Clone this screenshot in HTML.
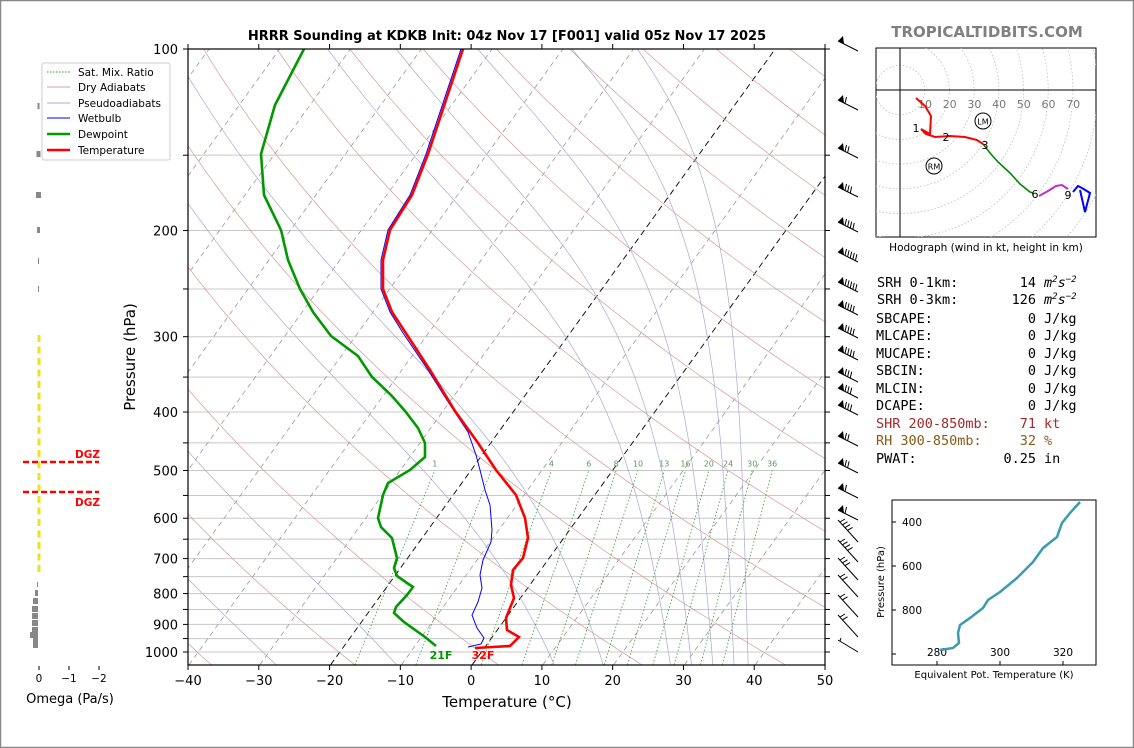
<!DOCTYPE html>
<html><head><meta charset="utf-8"><style>
html,body{margin:0;padding:0;background:#fff;}
svg{display:block;font-family:"DejaVu Sans","Liberation Sans",sans-serif;}
.mono{font-family:"DejaVu Sans Mono","Liberation Mono",monospace;font-size:13.5px;}
</style></head><body>
<svg id="s" width="1134" height="748" viewBox="0 0 1134 748" xmlns="http://www.w3.org/2000/svg">
<rect x="0.5" y="0.5" width="1133" height="747" fill="#fff" stroke="#888" stroke-width="1.5"/>
<defs><clipPath id="cp"><rect x="188" y="49" width="637" height="616"/></clipPath>
<clipPath id="hc"><rect x="876" y="48" width="220" height="189"/></clipPath></defs>
<g id="bg" clip-path="url(#cp)"></g>
<g id="prof" clip-path="url(#cp)">
<polyline fill="none" stroke="#0000ff" stroke-width="1" points="461,49 426,154 410,195 388,230 381,260 381,289 390,312 403,333 428,370 450,405 468,432 476,455 480,470 485,490 490,505 492,530 491,542 483,560 480,575 482,588 478,602 472,615 477,628 484,638 481,644 468,647"/>
<polyline fill="none" stroke="#009900" stroke-width="2.6" points="304,49 275,105 261,154 264,195 281,230 288,260 300,289 313,312 331,336 358,356 372,377 391,395 405,411 418,428 425,443 425,457 410,470 388,483 383,495 378,518 381,527 392,538 397,558 394,568 397,576 407,583 413,587 407,595 396,607 394,613 404,622 425,637 436,646"/>
<polyline fill="none" stroke="#ff0000" stroke-width="2.6" points="463,49 428,154 412,195 390,230 383,260 383,289 392,312 430,370 455,411 478,443 496,470 516,495 525,518 528,538 523,558 513,570 511,585 514,598 506,618 507,630 519,637 510,646 475,648"/>
</g>
<text x="441" y="659" font-size="11" font-weight="bold" fill="#009900" text-anchor="middle">21F</text>
<text x="483" y="659" font-size="11" font-weight="bold" fill="#ff0000" text-anchor="middle">32F</text>
<g id="ax"></g>
<text x="507" y="40" font-size="13" font-weight="bold" text-anchor="middle">HRRR Sounding at KDKB Init: 04z Nov 17 [F001] valid 05z Nov 17 2025</text>
<text x="507" y="707" font-size="15" text-anchor="middle">Temperature (°C)</text>
<text transform="translate(135,357) rotate(-90)" font-size="15" text-anchor="middle">Pressure (hPa)</text>
<rect x="42" y="63" width="128" height="97" rx="2" fill="#fff" stroke="#ccc"/>
<g font-size="10.5">
<line x1="47" y1="72" x2="70" y2="72" stroke="#2a9a2a" stroke-dasharray="1.5,1.5"/><text x="78" y="76">Sat. Mix. Ratio</text>
<line x1="47" y1="87" x2="70" y2="87" stroke="#d9a0a0"/><text x="78" y="91">Dry Adiabats</text>
<line x1="47" y1="103" x2="70" y2="103" stroke="#a8a8d8"/><text x="78" y="107">Pseudoadiabats</text>
<line x1="47" y1="118" x2="70" y2="118" stroke="#0000ff"/><text x="78" y="122">Wetbulb</text>
<line x1="47" y1="134" x2="70" y2="134" stroke="#009900" stroke-width="2.5"/><text x="78" y="138">Dewpoint</text>
<line x1="47" y1="150" x2="70" y2="150" stroke="#ff0000" stroke-width="2.5"/><text x="78" y="154">Temperature</text>
</g>
<g id="om"></g>
<line x1="23" y1="462" x2="99" y2="462" stroke="#ff0000" stroke-width="2.5" stroke-dasharray="6,3"/>
<line x1="23" y1="492" x2="99" y2="492" stroke="#ff0000" stroke-width="2.5" stroke-dasharray="6,3"/>
<text x="100" y="458" font-size="10.5" font-weight="bold" fill="#ff0000" text-anchor="end">DGZ</text>
<text x="100" y="506" font-size="10.5" font-weight="bold" fill="#ff0000" text-anchor="end">DGZ</text>
<g font-size="10.5" text-anchor="middle"><line x1="39" y1="666" x2="39" y2="670" stroke="#000"/><line x1="69" y1="666" x2="69" y2="670" stroke="#000"/><line x1="99" y1="666" x2="99" y2="670" stroke="#000"/>
<text x="39" y="682">0</text><text x="69" y="682">−1</text><text x="99" y="682">−2</text></g>
<text x="70" y="703" font-size="13" text-anchor="middle">Omega (Pa/s)</text>
<g id="barbs" stroke="#000" stroke-width="1" fill="#000"></g>
<text x="987" y="37" font-size="15" font-weight="bold" fill="#808080" text-anchor="middle">TROPICALTIDBITS.COM</text>
<rect x="876" y="48" width="220" height="189" fill="#fff" stroke="#000"/>
<g id="hod" clip-path="url(#hc)"></g>
<text x="986" y="251" font-size="10.5" text-anchor="middle">Hodograph (wind in kt, height in km)</text>
<g class="mono" xml:space="preserve">
<text x="877" y="287">SRH 0-1km:</text><text x="1036" y="287" text-anchor="end">14</text><text x="1044" y="287" font-style="italic">m<tspan font-size="9" dy="-5">2</tspan><tspan dy="5">s</tspan><tspan font-size="9" dy="-5">−2</tspan></text>
<text x="877" y="304">SRH 0-3km:</text><text x="1036" y="304" text-anchor="end">126</text><text x="1044" y="304" font-style="italic">m<tspan font-size="9" dy="-5">2</tspan><tspan dy="5">s</tspan><tspan font-size="9" dy="-5">−2</tspan></text>
<text x="876" y="323">SBCAPE:</text><text x="1036" y="323" text-anchor="end">0</text><text x="1044" y="323">J/kg</text>
<text x="876" y="340">MLCAPE:</text><text x="1036" y="340" text-anchor="end">0</text><text x="1044" y="340">J/kg</text>
<text x="876" y="358">MUCAPE:</text><text x="1036" y="358" text-anchor="end">0</text><text x="1044" y="358">J/kg</text>
<text x="876" y="375">SBCIN:</text><text x="1036" y="375" text-anchor="end">0</text><text x="1044" y="375">J/kg</text>
<text x="876" y="393">MLCIN:</text><text x="1036" y="393" text-anchor="end">0</text><text x="1044" y="393">J/kg</text>
<text x="876" y="410">DCAPE:</text><text x="1036" y="410" text-anchor="end">0</text><text x="1044" y="410">J/kg</text>
<text x="876" y="428" fill="#a52a2a">SHR 200-850mb:</text><text x="1036" y="428" text-anchor="end" fill="#a52a2a">71</text><text x="1044" y="428" fill="#a52a2a">kt</text>
<text x="876" y="445" fill="#8b5a1a">RH 300-850mb:</text><text x="1036" y="445" text-anchor="end" fill="#8b5a1a">32</text><text x="1044" y="445" fill="#8b5a1a">%</text>
<text x="876" y="463">PWAT:</text><text x="1036" y="463" text-anchor="end">0.25</text><text x="1044" y="463">in</text>
</g>
<rect x="892" y="500" width="204" height="165" fill="#fff" stroke="#000"/>
<g font-size="10.5">
<line x1="892" y1="522" x2="896" y2="522" stroke="#000"/><text x="922" y="526" text-anchor="end">400</text>
<line x1="892" y1="566" x2="896" y2="566" stroke="#000"/><text x="922" y="570" text-anchor="end">600</text>
<line x1="892" y1="610" x2="896" y2="610" stroke="#000"/><text x="922" y="614" text-anchor="end">800</text>
<line x1="892" y1="654" x2="896" y2="654" stroke="#000"/>
<line x1="937" y1="665" x2="937" y2="661" stroke="#000"/><text x="937" y="656" text-anchor="middle">280</text>
<line x1="1000" y1="665" x2="1000" y2="661" stroke="#000"/><text x="1000" y="656" text-anchor="middle">300</text>
<line x1="1063" y1="665" x2="1063" y2="661" stroke="#000"/><text x="1063" y="656" text-anchor="middle">320</text>
<text x="994" y="678" text-anchor="middle" font-size="10">Equivalent Pot. Temperature (K)</text>
<text transform="translate(884,582) rotate(-90)" text-anchor="middle" font-size="10">Pressure (hPa)</text>
</g>
<polyline fill="none" stroke="#3a9ab0" stroke-width="2.5" points="940,650 953,648 959,643 958,633 960,625 970,618 983,608 988,600 1000,592 1017,578 1033,562 1043,548 1057,537 1062,523 1070,513 1080,502"/>
</svg>
<script>
(function(){
var NS="http://www.w3.org/2000/svg";
function el(par,tag,a,txt){var e=document.createElementNS(NS,tag);for(var k in a)e.setAttribute(k,a[k]);if(txt!=null)e.textContent=txt;par.appendChild(e);return e;}
function Y(p){return 49+(Math.log10(p)-2)*603;}
function X(T,p){return 472+T*7.078+(665-Y(p))*0.722;}
var bg=document.getElementById('bg'),ax=document.getElementById('ax');
function poly(par,pts,a){a.points=pts.map(function(q){return q[0].toFixed(1)+','+q[1].toFixed(1);}).join(' ');a.fill='none';return el(par,'polyline',a);}
var gp=[100,150,200,250,300,350,400,450,500,550,600,650,700,750,800,850,900,950,1000];
gp.forEach(function(p){var y=Y(p);el(bg,'line',{x1:188,x2:825,y1:y,y2:y,stroke:'#c8c8c8','stroke-width':1});});
for(var T=-140;T<=50;T+=10){var s=(T==0||T==-20);poly(bg,[[X(T,1050),Y(1050)],[X(T,100),Y(100)]],{stroke:s?'#000':'#999','stroke-width':s?0.9:0.8,'stroke-dasharray':s?'6,4':'5,4'});}
var ps=[];for(var p=1050;p>=100;p-=10)ps.push(p);
for(var th=213;th<=600;th+=20){var pts=ps.map(function(p){var T=th*Math.pow(p/1000,0.286)-273.15;return [X(T,p),Y(p)];});poly(bg,pts,{stroke:'#d89898','stroke-width':0.7});}
function es(T){return 6.112*Math.exp(17.67*T/(T+243.5));}
function dT(T,p){var e=es(T-273.15);var rs=0.622*e/Math.max(p-e,1);var Rd=287,Cp=1005,L=2.5e6;return (1/p)*(Rd*T+L*rs)/(Cp+L*L*rs*0.622/(Rd*T*T));}
[-62,-45,-27.7,-10.7,11.6,18.5,28,31,34,37,39].forEach(function(Tb){var pts=[],T=Tb+273.15,p=1050;pts.push([X(Tb,1050),Y(1050)]);
 while(p>100){T-=dT(T,p)*2;p-=2;if(p%10==0)pts.push([X(T-273.15,p),Y(p)]);}
 poly(bg,pts,{stroke:'#a8a8d8','stroke-width':0.7});});
var ws=[1,2,4,6,8,10,13,16,20,24,30,36];
function Td(w,p){var e=w*p/(622+w);var a=Math.log(e/6.112);return 243.5*a/(17.67-a);}
ws.forEach(function(w){var pts=[[X(Td(w,1050),1050),Y(1050)],[X(Td(w,500),500),Y(500)]];poly(bg,pts,{stroke:'#3a9a3a','stroke-width':0.8,'stroke-dasharray':'1.5,2'});
 if(w!=2)el(ax,'text',{x:X(Td(w,500),500),y:Y(500)-4,'font-size':8,fill:'#5a9a5a','text-anchor':'middle'},String(w));});
el(ax,'rect',{x:188,y:49,width:637,height:616,fill:'none',stroke:'#000','stroke-width':1.2});
for(var T=-40;T<=50;T+=10){var x=188+(T+40)*7.078;el(ax,'line',{x1:x,x2:x,y1:665,y2:670,stroke:'#000'});el(ax,'line',{x1:x,x2:x,y1:49,y2:44,stroke:'#000'});
 el(ax,'text',{x:x,y:685,'font-size':13,'text-anchor':'middle'},(T<0?'−':'')+Math.abs(T));}
gp.forEach(function(p){var y=Y(p);el(ax,'line',{x1:183,x2:188,y1:y,y2:y,stroke:'#000'});el(ax,'line',{x1:825,x2:830,y1:y,y2:y,stroke:'#000'});
 if(p%100==0)el(ax,'text',{x:178,y:y+5,'font-size':13,'text-anchor':'end'},String(p));});
var om=document.getElementById('om');
[[106,2],[154,4],[195,5],[230,3],[261,1],[289,1]].forEach(function(b){el(om,'rect',{x:38-b[1]/2+0.5,y:b[0]-3,width:b[1],height:6,fill:'#888'});});
for(var y=335;y<572;y+=11.5){el(om,'rect',{x:37.5,y:y,width:3,height:7,fill:'#f0e020'});}
[[582,587,1],[590,596,3],[598,604,5],[606,612,6],[613,619,6],[620,626,6],[627,633,6],[632,638,8],[638,648,5]].forEach(function(b){el(om,'rect',{x:38-b[2],y:b[0],width:b[2],height:b[1]-b[0],fill:'#888'});});
var bb=document.getElementById('barbs');
var by=[41,100,148,187,222,252,282,305,328,350,372,388,405,436,463,488,510];
by.forEach(function(y,i){el(bb,'line',{x1:838,y1:y,x2:858,y2:y+10});el(bb,'polygon',{points:(838)+','+y+' '+(843)+','+(y-5)+' '+(844)+','+(y+3),stroke:'none'});
 var n=[0,1,2,3,4,5,5,4,4,4,3,3,3,2,2,1,1][i];for(var k=0;k<n;k++){var x=845+k*2.6;el(bb,'line',{x1:x,y1:y+3.5+k*1.3,x2:x+1.5,y2:y-3+k*1.3});}});
[[530,4],[550,4],[568,3],[585,2],[605,2],[625,2]].forEach(function(b){var y=b[0];el(bb,'line',{x1:838,y1:y-10,x2:858,y2:y+12});for(var k=0;k<b[1];k++){el(bb,'line',{x1:840+k*2.5,y1:y-8+k*2.8,x2:845+k*2.5,y2:y-11+k*2.8});}});
el(bb,'line',{x1:838,y1:640,x2:858,y2:652});el(bb,'line',{x1:840,y1:641,x2:841,y2:638});
var h=document.getElementById('hod');
for(var r=1;r<=10;r++)el(h,'circle',{cx:900,cy:90,r:r*24.7,fill:'none',stroke:'#bbb','stroke-width':0.8,'stroke-dasharray':'1.5,2'});
el(h,'line',{x1:900,y1:48,x2:900,y2:237,stroke:'#000'});el(h,'line',{x1:876,y1:90,x2:1096,y2:90,stroke:'#000'});
[10,20,30,40,50,60,70].forEach(function(v,i){el(h,'text',{x:925+i*24.7,y:108,'font-size':11,fill:'#777','text-anchor':'middle'},String(v));});
poly(h,[[916,98],[925,106],[931,116],[930,134],[921,129],[926,134],[935,137],[950,136],[965,137],[977,140],[983,144]],{stroke:'#ff0000','stroke-width':2});
poly(h,[[983,144],[990,153],[998,162],[1010,173],[1020,184],[1030,192],[1033,193]],{stroke:'#008800','stroke-width':1.6});
poly(h,[[1039,196],[1048,191],[1056,186],[1062,185],[1068,189]],{stroke:'#c030c0','stroke-width':2});
poly(h,[[1073,192],[1078,186],[1082,188],[1090,193],[1085,212],[1080,190]],{stroke:'#0000ff','stroke-width':2});
[['1',916,132],['2',946,141],['3',985,149],['6',1035,198],['9',1068,199]].forEach(function(t){el(h,'text',{x:t[1],y:t[2],'font-size':11,'text-anchor':'middle'},t[0]);});
el(h,'circle',{cx:983,cy:121,r:8,fill:'none',stroke:'#000'});el(h,'text',{x:983,y:124.5,'font-size':8,'text-anchor':'middle'},'LM');
el(h,'circle',{cx:934,cy:166,r:8,fill:'none',stroke:'#000'});el(h,'text',{x:934,y:169.5,'font-size':8,'text-anchor':'middle'},'RM');
})();
</script>
</body></html>
